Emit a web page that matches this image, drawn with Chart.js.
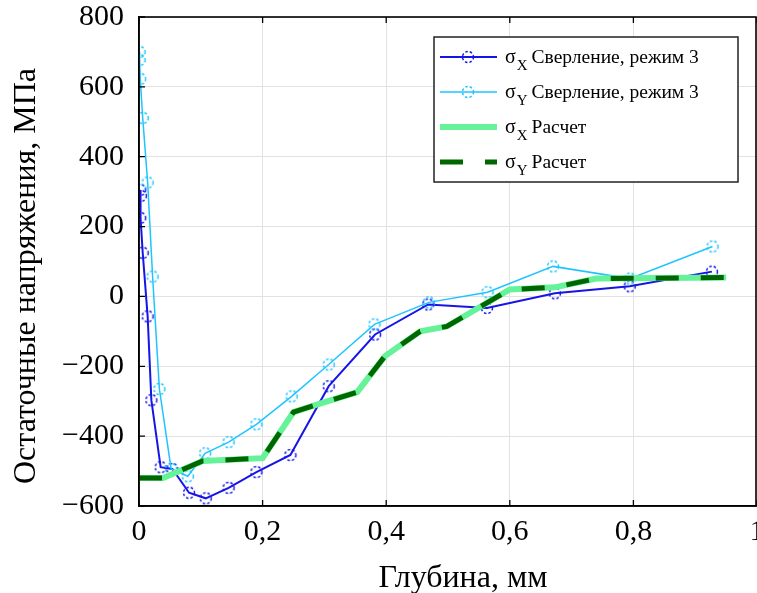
<!DOCTYPE html>
<html lang="ru">
<head>
  <meta charset="UTF-8" />
  <title>Остаточные напряжения</title>
  <script src="https://cdn.jsdelivr.net/npm/chart.js"></script>
  <style>
    html, body { margin: 0; padding: 0; background: #fff; }
    canvas { display: block; }
  </style>
</head>
<body>
  <canvas id="chart" width="757" height="593"></canvas>

  <script>
    // sigma X, drilling (mode 3)
    const depthXDrill = [0.002, 0.003, 0.002, 0.006, 0.014, 0.020, 0.035, 0.054, 0.081, 0.108,
                         0.145, 0.190, 0.245, 0.307, 0.382, 0.468, 0.563, 0.673, 0.794, 0.927];
    const sigmaXDrill = [305, 288, 225, 125, -57, -297, -489, -494, -562, -578,
                         -548, -503, -454, -257, -109, -23, -33, 9, 29, 71];

    // sigma Y, drilling (mode 3)
    const depthYDrill = [0.001, 0.001, 0.002, 0.006, 0.014, 0.022, 0.033, 0.052, 0.079, 0.107,
                         0.145, 0.190, 0.247, 0.307, 0.381, 0.469, 0.564, 0.670, 0.794, 0.928];
    const sigmaYDrill = [700, 677, 623, 511, 326, 57, -265, -494, -515, -449,
                         -417, -366, -286, -195, -80, -17, 12, 86, 51, 143];

    // calculation
    const depthCalc  = [0, 0.039, 0.103, 0.2, 0.25, 0.289, 0.353, 0.398, 0.455, 0.498, 0.6, 0.673, 0.74, 0.95];
    const sigmaXCalc = [-520, -520, -471, -463, -331, -309, -274, -171, -100, -86, 20, 26, 51, 54];
    const sigmaYCalc = [-520, -520, -471, -463, -331, -309, -274, -171, -100, -86, 20, 26, 51, 54];

    const xTicks = [0, 0.2, 0.4, 0.6, 0.8, 1];
    const yTicks = [-600, -400, -200, 0, 200, 400, 600, 800];

    const legendSub  = ['X', 'Y', 'X', 'Y'];
    const legendText = ['Сверление, режим 3', 'Сверление, режим 3', 'Расчет', 'Расчет'];
    const yTitle = 'Остаточные напряжения, МПа';
    const xTitle = 'Глубина, мм';

    const FONT = '"Liberation Serif", "Times New Roman", serif';

    function pts(xs, ys) {
      return xs.map((x, i) => ({ x: x, y: ys[i] }));
    }

    // dashed ring, like the matlab 'o' marker in the picture
    function ring(color) {
      const c = document.createElement('canvas');
      c.width = 16; c.height = 16;
      const g = c.getContext('2d');
      g.strokeStyle = color;
      g.lineWidth = 1.4;
      g.setLineDash([2.5, 2]);
      g.beginPath();
      g.arc(8, 8, 5.5, 0, Math.PI * 2);
      g.stroke();
      return c;
    }

    const blue = '#1515e8', cyan = '#1ec4ff', lightGreen = '#66f299', darkGreen = '#006600';

    // frame, inward ticks, axis titles and the legend with subscripts
    const framePlugin = {
      id: 'frame',
      afterDraw(chart) {
        const { ctx, chartArea: a, scales } = chart;
        ctx.save();
        ctx.strokeStyle = '#000';
        ctx.lineWidth = 1.3;
        ctx.beginPath();
        xTicks.forEach(v => {
          const px = scales.x.getPixelForValue(v);
          ctx.moveTo(px, a.top); ctx.lineTo(px, a.top + 6);
          ctx.moveTo(px, a.bottom); ctx.lineTo(px, a.bottom - 6);
        });
        yTicks.forEach(v => {
          const py = scales.y.getPixelForValue(v);
          ctx.moveTo(a.left, py); ctx.lineTo(a.left + 6, py);
        });
        ctx.stroke();
        ctx.lineWidth = 1.6;
        ctx.strokeRect(a.left, a.top, a.right - a.left - 1, a.bottom - a.top);

        // axis titles
        ctx.fillStyle = '#000';
        ctx.font = '32px ' + FONT;
        ctx.textAlign = 'center';
        ctx.textBaseline = 'alphabetic';
        ctx.fillText(xTitle, 463, 587);
        ctx.save();
        ctx.translate(35, 276);
        ctx.rotate(-Math.PI / 2);
        ctx.fillText(yTitle, 0, 0);
        ctx.restore();

        // legend
        const bx = 434, by = 37, bw = 304, bh = 145;
        ctx.fillStyle = '#fff';
        ctx.fillRect(bx, by, bw, bh);
        ctx.strokeStyle = '#222';
        ctx.lineWidth = 1.5;
        ctx.strokeRect(bx, by, bw, bh);

        chart.data.datasets.forEach((ds, i) => {
          const cy = 57 + 35 * i;
          ctx.save();
          ctx.strokeStyle = ds.borderColor;
          ctx.lineWidth = ds.borderWidth;
          ctx.setLineDash(ds.borderDash || []);
          ctx.beginPath();
          ctx.moveTo(440, cy); ctx.lineTo(497, cy);
          ctx.stroke();
          ctx.restore();
          if (ds.pointStyle instanceof HTMLCanvasElement) {
            ctx.drawImage(ds.pointStyle, 468 - 8, cy - 8);
          }
          ctx.fillStyle = '#000';
          ctx.textAlign = 'left';
          ctx.textBaseline = 'alphabetic';
          let tx = 505;
          ctx.font = '20px ' + FONT;
          ctx.fillText('σ', tx, cy + 6);
          tx += ctx.measureText('σ').width + 1;
          ctx.font = '15px ' + FONT;
          ctx.fillText(legendSub[i], tx, cy + 13);
          tx += ctx.measureText(legendSub[i]).width + 4;
          ctx.font = '19.5px ' + FONT;
          ctx.fillText(legendText[i], tx, cy + 6);
        });
        ctx.restore();
      }
    };

    new Chart(document.getElementById('chart'), {
      type: 'line',
      data: {
        datasets: [
          {
            label: 'σX Сверление, режим 3',
            data: pts(depthXDrill, sigmaXDrill),
            borderColor: blue, borderWidth: 2,
            pointStyle: ring(blue), pointRadius: 6,
            order: 4
          },
          {
            label: 'σY Сверление, режим 3',
            data: pts(depthYDrill, sigmaYDrill),
            borderColor: cyan, borderWidth: 1.5,
            pointStyle: ring(cyan), pointRadius: 6,
            order: 3
          },
          {
            label: 'σX Расчет',
            data: pts(depthCalc, sigmaXCalc),
            borderColor: lightGreen, borderWidth: 6,
            pointRadius: 0,
            order: 2
          },
          {
            label: 'σY Расчет',
            data: pts(depthCalc, sigmaYCalc),
            borderColor: darkGreen, borderWidth: 5,
            borderDash: [23, 22],
            pointRadius: 0,
            order: 1
          }
        ]
      },
      options: {
        responsive: false,
        animation: false,
        devicePixelRatio: 1,
        layout: { autoPadding: false, padding: { top: 17, right: 0, left: 0, bottom: 0 } },
        plugins: {
          legend: { display: false },
          tooltip: { enabled: false }
        },
        elements: { line: { tension: 0, fill: false } },
        scales: {
          x: {
            type: 'linear',
            min: 0, max: 1,
            afterBuildTicks: s => { s.ticks = xTicks.map(v => ({ value: v })); },
            afterFit: s => { s.height = 87; s.paddingLeft = 0; s.paddingRight = 0; },
            ticks: {
              font: { family: FONT, size: 30 },
              color: '#000',
              padding: 8,
              maxRotation: 0,
              callback: v => String(v).replace('.', ',')
            },
            grid: { color: '#e2e2e2', lineWidth: 1, drawTicks: false },
            border: { display: true, color: '#000', width: 1.5 }
          },
          y: {
            min: -600, max: 800,
            afterBuildTicks: s => { s.ticks = yTicks.map(v => ({ value: v })); },
            afterFit: s => { s.width = 139; s.paddingTop = 0; s.paddingBottom = 0; },
            ticks: {
              font: { family: FONT, size: 30 },
              color: '#000',
              padding: 15,
              callback: v => v < 0 ? '\u2212' + Math.abs(v) : String(v)
            },
            grid: { color: '#e2e2e2', lineWidth: 1, drawTicks: false },
            border: { display: true, color: '#000', width: 1.5 }
          }
        }
      },
      plugins: [framePlugin]
    });
  </script>
</body>
</html>
